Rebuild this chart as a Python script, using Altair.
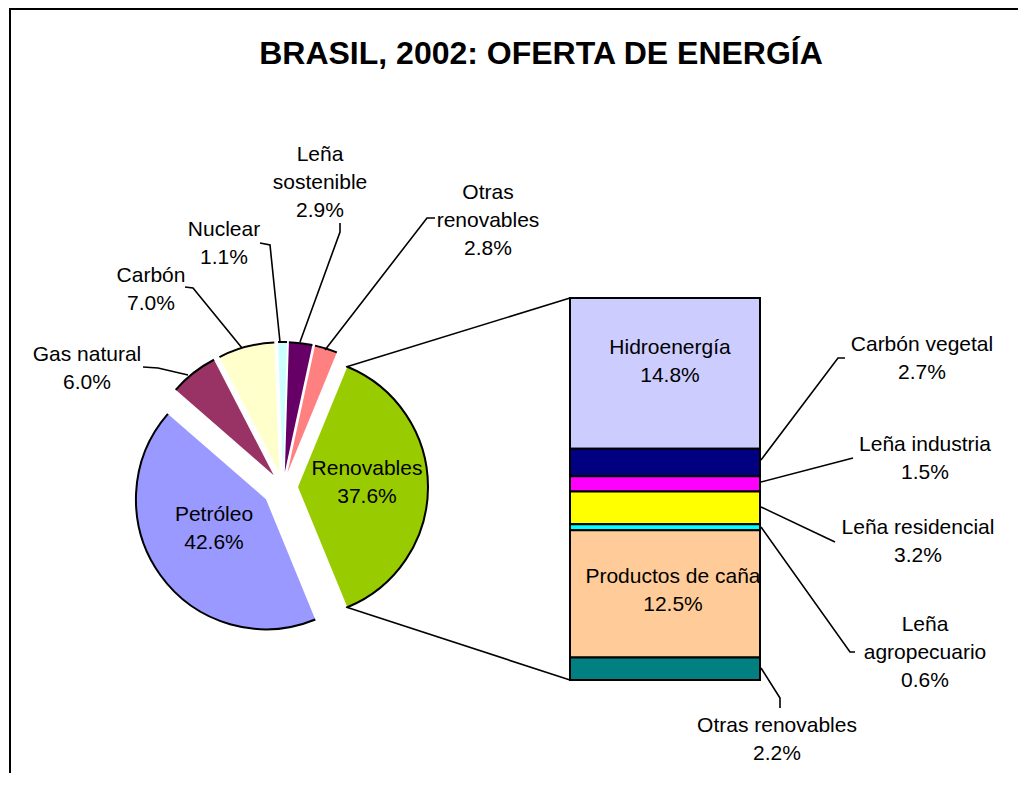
import math
import altair as alt
import pandas as pd

# ---------------- data ----------------
TITLE = "BRASIL, 2002: OFERTA DE ENERGÍA"

pie_categories = ["Petróleo", "Gas natural", "Carbón", "Nuclear",
                  "Leña sostenible", "Otras renovables", "Renovables"]
pie_values = [42.6, 6.0, 7.0, 1.1, 2.9, 2.8, 37.6]
pie_label_lines = ["Petróleo", "Gas natural", "Carbón", "Nuclear",
                   "Leña\nsostenible", "Otras\nrenovables", "Renovables"]

bar_categories = ["Hidroenergía", "Carbón vegetal", "Leña industria",
                  "Leña residencial", "Leña agropecuario",
                  "Productos de caña", "Otras renovables (b)"]
bar_values = [14.8, 2.7, 1.5, 3.2, 0.6, 12.5, 2.2]
bar_label_lines = ["Hidroenergía", "Carbón vegetal", "Leña industria",
                   "Leña residencial", "Leña\nagropecuario",
                   "Productos de caña", "Otras renovables"]

# ---------------- styles ----------------
pie_colors = ["#9999FF", "#993366", "#FFFFCC", "#CCFFFF", "#660066", "#FF8080", "#99CC00"]
bar_colors = ["#CCCCFF", "#000080", "#FF00FF", "#FFFF00", "#00FFFF", "#FFCC99", "#008080"]
FONT = "Liberation Sans"
FS = 21
LH = 28

# ---------------- layout (page pixels, shifted by the 8px page margin) ----------------
OFF = 8
W, H = 1010, 765
PIE_CX, PIE_CY, R = 283 - OFF, 487 - OFF, 130
BAR_X0, BAR_X1 = 570 - OFF, 760 - OFF
BAR_Y0, BAR_Y1 = 298 - OFF, 680 - OFF

# centre of each label block
pie_label_pos = {
    "Petróleo": (214, 529), "Gas natural": (87, 369), "Carbón": (151, 290),
    "Nuclear": (224, 244), "Leña sostenible": (320, 183),
    "Otras renovables": (488, 221), "Renovables": (367, 483),
}
bar_label_pos = {
    "Hidroenergía": (670, 362), "Carbón vegetal": (922, 359),
    "Leña industria": (925, 459), "Leña residencial": (918, 542),
    "Leña agropecuario": (925, 653), "Productos de caña": (673, 591),
    "Otras renovables (b)": (777, 740),
}
leaders = [
    [(143, 367), (158, 368), (188, 375)],
    [(185, 287), (193, 288), (242, 348)],
    [(260, 243), (270, 245), (280, 342)],
    [(340, 223), (340, 232), (300, 342)],
    [(435, 218), (427, 218), (325, 350)],
    [(346, 367), (570, 298)],
    [(346, 607), (570, 680)],
    [(845, 358), (838, 358), (761, 460)],
    [(853, 458), (761, 482)],
    [(835, 542), (761, 507)],
    [(855, 652), (850, 652), (761, 527)],
    [(780, 708), (780, 698), (761, 668)],
]

# ---------------- tables ----------------
pie_total = sum(pie_values)
# the "other" slice (last) is centred at 3 o'clock, as Excel does for pie-of-bar
start = math.pi / 2 - 2 * math.pi * (sum(pie_values[:-1]) + pie_values[-1] / 2) / pie_total

pie_df = pd.DataFrame({
    "cat": pie_categories, "value": pie_values, "order": range(len(pie_values)),
})
bar_df = pd.DataFrame({
    "cat": bar_categories, "value": bar_values, "order": range(len(bar_values)),
})

pie_lab_df = pd.DataFrame({
    "label": pie_label_lines, "value": pie_values,
    "x": [pie_label_pos[c][0] - OFF for c in pie_categories],
    "y": [pie_label_pos[c][1] - OFF for c in pie_categories],
})
bar_lab_df = pd.DataFrame({
    "label": bar_label_lines, "value": bar_values,
    "x": [bar_label_pos[c][0] - OFF for c in bar_categories],
    "y": [bar_label_pos[c][1] - OFF for c in bar_categories],
})
lab_df = pd.concat([pie_lab_df, bar_lab_df], ignore_index=True)

lead_rows = []
for i, pts in enumerate(leaders):
    for j, (px, py) in enumerate(pts):
        lead_rows.append({"id": i, "seq": j, "x": px - OFF, "y": py - OFF})
lead_df = pd.DataFrame(lead_rows)

one = pd.DataFrame({"t": [TITLE]})

# ---------------- pie ----------------
pie_base = alt.Chart(pie_df).transform_window(
    cum="sum(value)", sort=[alt.SortField("order")], frame=[None, 0]
).transform_calculate(
    a0=f"{start} + 2*PI*(datum.cum - datum.value)/{pie_total}",
    a1=f"{start} + 2*PI*datum.cum/{pie_total}",
).transform_calculate(
    mid="(datum.a0 + datum.a1)/2",
    ex="datum.cat == 'Petróleo' ? 21 : 15",
).transform_calculate(
    cx=f"{PIE_CX} + datum.ex*sin(datum.mid)",
    cy=f"{PIE_CY} - datum.ex*cos(datum.mid)",
)
pie_enc = dict(
    x=alt.X("cx:Q", scale=None, axis=None),
    y=alt.Y("cy:Q", scale=None, axis=None),
    theta=alt.Theta("a0:Q", scale=None, stack=None),
    theta2="a1:Q",
)
pie_fill = pie_base.mark_arc(radius=R, strokeWidth=0).encode(
    color=alt.Color("cat:N", scale=alt.Scale(domain=pie_categories, range=pie_colors), legend=None),
    **pie_enc,
)
pie_edge = pie_base.mark_arc(radius=R, radius2=R, fillOpacity=0, stroke="black",
                             strokeWidth=2).encode(**pie_enc)

# ---------------- bar ----------------
bar = alt.Chart(bar_df).transform_window(
    cum="sum(value)", sort=[alt.SortField("order")], frame=[None, 0]
).transform_calculate(
    y0="datum.cum - datum.value"
).mark_bar(stroke="black", strokeWidth=2).encode(
    x=alt.value(BAR_X0), x2=alt.value(BAR_X1),
    y=alt.Y("y0:Q", scale=alt.Scale(domain=[0, sum(bar_values)], range=[BAR_Y0, BAR_Y1], nice=False, zero=False), axis=None),
    y2="cum:Q",
    color=alt.Color("cat:N", scale=alt.Scale(domain=bar_categories, range=bar_colors), legend=None),
)

# ---------------- leaders ----------------
lead = alt.Chart(lead_df).mark_line(color="black", strokeWidth=1.6).encode(
    x=alt.X("x:Q", scale=None, axis=None),
    y=alt.Y("y:Q", scale=None, axis=None),
    detail="id:N",
    order="seq:O",
)

# ---------------- labels ----------------
labels = alt.Chart(lab_df).transform_calculate(
    txt="datum.label + '\\n' + format(datum.value, '.1f') + '%'"
).transform_calculate(
    ytop=f"datum.y - (length(split(datum.txt, '\\n')) - 1) * {LH} / 2"
).mark_text(font=FONT, fontSize=FS, lineHeight=LH, lineBreak="\n",
            align="center", baseline="middle", color="black").encode(
    x=alt.X("x:Q", scale=None, axis=None),
    y=alt.Y("ytop:Q", scale=None, axis=None),
    text="txt:N",
)

title = alt.Chart(one).mark_text(font=FONT, fontSize=32, fontWeight="bold",
                                 align="center", baseline="alphabetic").encode(
    x=alt.value(541 - OFF), y=alt.value(64 - OFF), text="t:N")

border_left = alt.Chart(one).mark_rule(color="black", strokeWidth=2).encode(
    x=alt.value(2), y=alt.value(0), y2=alt.value(H))
border_top = alt.Chart(one).mark_rule(color="black", strokeWidth=2).encode(
    x=alt.value(2), x2=alt.value(W), y=alt.value(1))

chart = alt.layer(
    border_left, border_top, pie_fill, pie_edge, bar, lead, labels, title
).resolve_scale(
    x="independent", y="independent", color="independent"
).properties(
    width=W, height=H, autosize=alt.AutoSizeParams(type="none"), padding=0,
    background="white",
).configure_view(stroke=None)

chart.save("out.html", embed_options={"renderer": "svg", "actions": False})
